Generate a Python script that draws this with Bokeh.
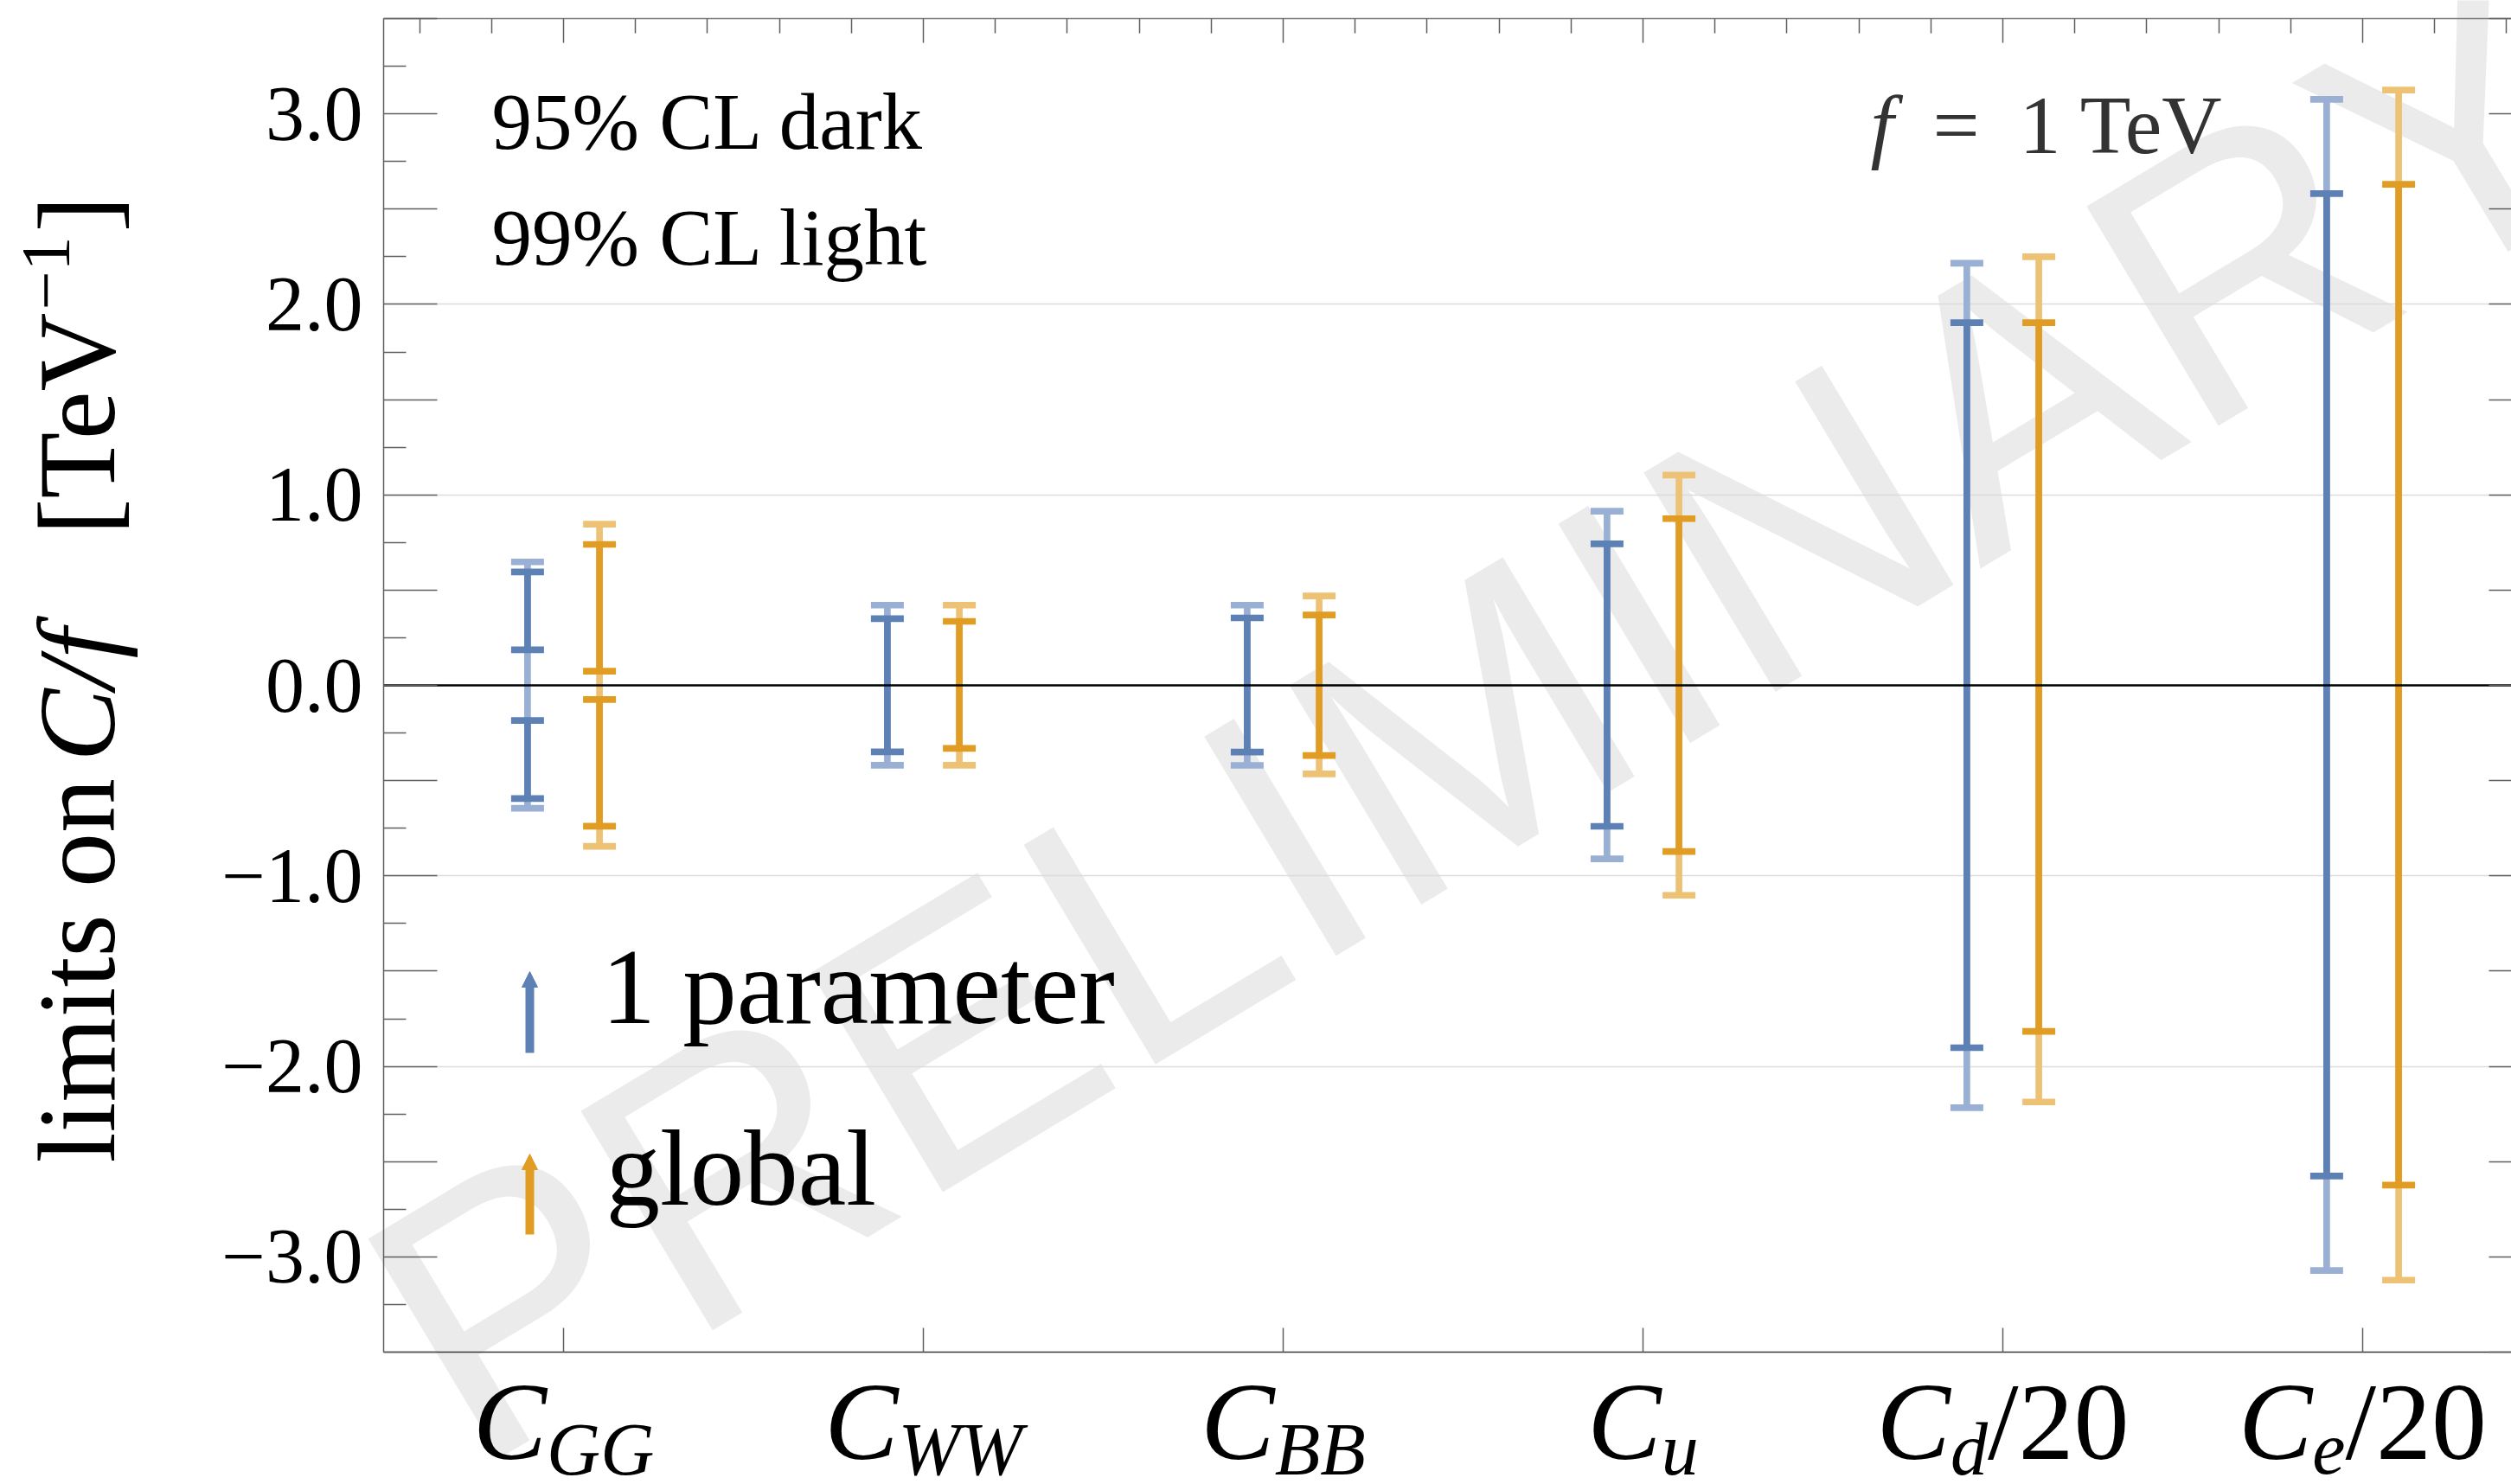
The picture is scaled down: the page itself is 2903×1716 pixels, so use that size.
import math
from bokeh.plotting import figure
from bokeh.models import (FixedTicker, LinearAxis, Range1d, Label, Arrow,
                          NormalHead, CustomJSTickFormatter, Whisker, TeeHead,
                          ColumnDataSource)
from bokeh.embed import file_html
from bokeh.resources import INLINE

# ---------------- data ----------------
categories = ["C_GG", "C_WW", "C_BB", "C_u", "C_d/20", "C_e/20"]
label_main = ["C", "C", "C", "C", "C", "C"]
label_sub = ["GG", "WW", "BB", "u", "d", "e"]
label_suffix = ["", "", "", "", "/20", "/20"]

# 1 parameter fits (blue)
one_hi99 = [0.648, 0.421, 0.421, 0.914, 2.216, 3.076]
one_hi95 = [0.595, 0.350, 0.354, 0.743, 1.904, 2.581]
one_lo95 = [-0.594, -0.349, -0.350, -0.740, -1.902, -2.576]
one_lo99 = [-0.645, -0.419, -0.420, -0.911, -2.217, -3.072]
one_gap_lo = [-0.184, None, None, None, None, None]
one_gap_hi = [0.187, None, None, None, None, None]

# global fit (orange)
glob_hi99 = [0.846, 0.421, 0.469, 1.104, 2.250, 3.125]
glob_hi95 = [0.740, 0.336, 0.369, 0.875, 1.904, 2.630]
glob_lo95 = [-0.739, -0.331, -0.368, -0.872, -1.816, -2.623]
glob_lo99 = [-0.845, -0.419, -0.465, -1.102, -2.187, -3.122]
glob_gap_lo = [-0.074, None, None, None, None, None]
glob_gap_hi = [0.074, None, None, None, None, None]

series_names = ["1 parameter", "global"]
y_tick_values = [i * 0.5 for i in range(-7, 8)]
y_grid_values = [-2, -1, 1, 2]
x_lim = (0.5, 6.5)
y_lim = (-3.5, 3.5)

# ---------------- layout ----------------
W, H = 2903, 1716
F_LEFT, F_TOP, F_BOTTOM = 443, 21, 1563   # frame edges in canvas pixels
XPX = 416.0
YPX = (F_BOTTOM - F_TOP) / (y_lim[1] - y_lim[0])
BASE_SHIFT = 0.38  # empirical baseline correction (em)


def dx(px):
    return x_lim[0] + (px - F_LEFT) / XPX


def dy(py):
    return y_lim[1] - (py - F_TOP) / YPX


BLUE, BLUE_L = "#5E81B5", "#99B0D4"
ORANGE, ORANGE_L = "#E19C24", "#EEC274"
SERIF = "Liberation Serif"
FRAME = "#5f5f5f"

p = figure(width=W, height=H, x_range=Range1d(dx(0), dx(W)),
           y_range=Range1d(dy(H), dy(0)), output_backend="svg",
           toolbar_location=None, x_axis_location=None, y_axis_location=None,
           min_border_left=0, min_border_right=0, min_border_top=0,
           min_border_bottom=0)
p.outline_line_color = None
p.background_fill_color = "white"
p.border_fill_color = "white"
for g in p.grid:
    g.visible = False


def lab(text, px, py, fs, style="normal", color="black", angle=0.0,
        font=SERIF, level="annotation", shift=BASE_SHIFT):
    """Label whose alphabetic baseline starts at canvas pixel (px, py)."""
    s = shift * fs
    ax = px - s * math.sin(angle)
    ay = py - s * math.cos(angle)
    lb = Label(x=dx(ax), y=dy(ay), text=text, angle=angle, text_font=font,
               text_font_style=style, text_font_size=f"{fs}px", text_color=color,
               text_align="left", text_baseline="alphabetic", level=level)
    p.add_layout(lb)
    return lb


# watermark
lab("PRELIMINARY", 548, 1705, 430, color="#EBEBEB", angle=math.radians(31),
    font="Liberation Sans", level="image", shift=0.35)

blank = CustomJSTickFormatter(code="return '';")


def hline_axis(loc, color, width, level):
    """Horizontal line across the frame only (grid / zero axis)."""
    ax = LinearAxis(ticker=FixedTicker(ticks=[], minor_ticks=[]), formatter=blank,
                    fixed_location=loc, bounds=x_lim, axis_line_color=color,
                    axis_line_width=width, major_tick_in=0, major_tick_out=0,
                    minor_tick_in=0, minor_tick_out=0,
                    major_label_text_font_size="0px", major_label_standoff=0,
                    level=level)
    p.add_layout(ax, "below")


for v in y_grid_values:
    hline_axis(v, "#DCDCDC", 1.5, "underlay")

fmt = CustomJSTickFormatter(code="""
const r = Math.round(tick);
if (Math.abs(tick - r) > 1e-6) return "";
const s = Math.abs(r).toFixed(1);
return r < 0 ? "\\u2212" + s : s;
""")

yminor = [i * 0.5 + 0.25 for i in range(-7, 7)]
tick_style = dict(major_tick_line_color=FRAME, major_tick_line_width=1.5,
                  minor_tick_line_color=FRAME, minor_tick_line_width=1.5,
                  major_tick_out=0, minor_tick_out=0)

left = LinearAxis(ticker=FixedTicker(ticks=y_tick_values, minor_ticks=yminor),
                  formatter=fmt, fixed_location=x_lim[0], bounds=y_lim,
                  major_tick_in=62, minor_tick_in=26,
                  axis_line_color=FRAME, axis_line_width=1.5,
                  major_label_text_font=SERIF, major_label_text_font_size="90px",
                  major_label_text_color="black", major_label_standoff=24,
                  **tick_style)
p.add_layout(left, "left")

right = LinearAxis(ticker=FixedTicker(ticks=y_tick_values, minor_ticks=yminor),
                   formatter=blank, fixed_location=x_lim[1], bounds=y_lim,
                   major_tick_in=62, minor_tick_in=26,
                   axis_line_color=FRAME, axis_line_width=1.5,
                   major_label_text_font_size="0px", major_label_standoff=0,
                   **tick_style)
p.add_layout(right, "right")

cat_pos = [i + 1 for i in range(len(categories))]
xminor = sorted(set(round(c + d, 2) for c in cat_pos for d in (-0.4, -0.2, 0.2, 0.4)))
top = LinearAxis(ticker=FixedTicker(ticks=cat_pos, minor_ticks=xminor),
                 formatter=blank, fixed_location=y_lim[1], bounds=x_lim,
                 major_tick_in=28, minor_tick_in=17,
                 axis_line_color="#777777", axis_line_width=1.5,
                 major_label_text_font_size="0px", major_label_standoff=0,
                 **tick_style)
p.add_layout(top, "above")

bottom = LinearAxis(ticker=FixedTicker(ticks=cat_pos, minor_ticks=[]),
                    formatter=blank, fixed_location=y_lim[0], bounds=x_lim,
                    major_tick_in=28, minor_tick_in=0,
                    axis_line_color="#3a3a3a", axis_line_width=1.5,
                    major_label_text_font_size="0px", major_label_standoff=0,
                    **tick_style)
p.add_layout(bottom, "below")

# ---------------- error bars ----------------
series = [
    (-0.1, one_hi99, one_hi95, one_lo95, one_lo99, one_gap_lo, one_gap_hi, BLUE, BLUE_L),
    (0.1, glob_hi99, glob_hi95, glob_lo95, glob_lo99, glob_gap_lo, glob_gap_hi, ORANGE, ORANGE_L),
]
LW, CAPW = 7.7, 38


def whisker(xs, lo, hi, col):
    src = ColumnDataSource(dict(x=xs, lo=lo, hi=hi))
    p.add_layout(Whisker(source=src, base="x", lower="lo", upper="hi",
                         dimension="height", line_color=col, line_width=LW,
                         level="glyph",
                         upper_head=TeeHead(size=CAPW, line_color=col, line_width=LW),
                         lower_head=TeeHead(size=CAPW, line_color=col, line_width=LW)))


for off, hi99, hi95, lo95, lo99, glo, ghi, dark, light in series:
    xs = [c + off for c in cat_pos]
    whisker(xs, lo99, hi99, light)
    sx, s0, s1 = [], [], []
    for x, a, b, g0, g1 in zip(xs, lo95, hi95, glo, ghi):
        if g0 is None:
            sx.append(x); s0.append(a); s1.append(b)
        else:
            sx += [x, x]; s0 += [a, g1]; s1 += [g0, b]
    whisker(sx, s0, s1, dark)

# zero axis line across the frame only
hline_axis(0, "black", 2.5, "guide")

# ---------------- category labels ----------------
IT_W = {"C": 0.667, "G": 0.722, "W": 0.833, "B": 0.611, "u": 0.5, "d": 0.5, "e": 0.444}
RG_W = {"/": 0.278, "2": 0.5, "0": 0.5}
MAIN_FS, SUB_FS = 128, 86
for c, m, s, suf in zip(cat_pos, label_main, label_sub, label_suffix):
    cx = F_LEFT + (c - x_lim[0]) * XPX
    wm_ = sum(IT_W[ch] for ch in m) * MAIN_FS
    ws = sum(IT_W[ch] for ch in s) * SUB_FS
    wf = sum(RG_W[ch] for ch in suf) * MAIN_FS
    x0 = cx - (wm_ + ws + wf) / 2
    lab(m, x0, 1692, MAIN_FS, style="italic")
    lab(s, x0 + wm_, 1708, SUB_FS, style="italic")
    if suf:
        lab(suf, x0 + wm_ + ws, 1692, MAIN_FS)

# ---------------- y-axis title ----------------
VERT = math.pi / 2
lab("limits on", 137, 1344, 126, angle=VERT)
lab("C/f", 137, 880, 126, style="italic", angle=VERT)
lab("[TeV", 137, 618, 126, angle=VERT)
lab("\u22121", 83, 358, 80, angle=VERT)
lab("]", 137, 268, 126, angle=VERT)

# ---------------- annotations ----------------
lab("95% CL dark", 568, 175, 93)
lab("99% CL light", 568, 309, 93)
lab("f", 2162, 180, 96, style="italic", color="#333333")
lab("=", 2234, 180, 96, color="#333333")
lab("1 TeV", 2334, 180, 96, color="#333333")

# legend
for name, col, yb, yt, ybase, tx in [(series_names[0], BLUE, 1217, 1123, 1188, 695),
                                      (series_names[1], ORANGE, 1427, 1334, 1398, 700)]:
    p.add_layout(Arrow(x_start=dx(612), y_start=dy(yb), x_end=dx(612), y_end=dy(yt),
                       line_color=col, line_width=10,
                       end=NormalHead(size=18, fill_color=col, line_color=col,
                                      line_width=1)))
    lab(name, tx, ybase, 125)

open("out.html", "w").write(file_html(p, INLINE))
